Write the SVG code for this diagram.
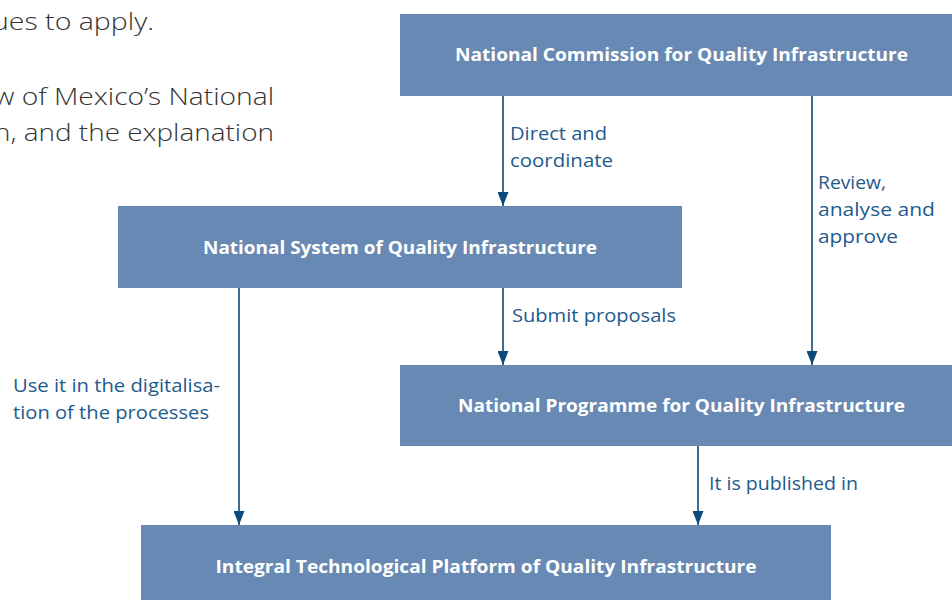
<svg xmlns="http://www.w3.org/2000/svg" width="952" height="600" viewBox="0 0 952 600">
<style>
.box{fill:#6889b3}
.bt{fill:#fff;font-family:"Open Sans","Liberation Sans",sans-serif;font-weight:700;font-size:18px;text-anchor:middle}
.lb{fill:#1f5a8d;font-family:"Open Sans","Liberation Sans",sans-serif;font-size:18.5px}
.pt{fill:#333;font-family:"Open Sans","Liberation Sans",sans-serif;font-size:24px;font-weight:300;text-anchor:end}
.ln{stroke:#0d4a7c;stroke-width:1.6;fill:none;marker-end:url(#ah)}
</style>
<defs>
<marker id="ah" viewBox="0 0 14 11" refX="14" refY="5.5" markerWidth="14" markerHeight="11" markerUnits="userSpaceOnUse" orient="auto">
<path d="M0,0 L14,5.5 L0,11 z" fill="#0d4a7c"/>
</marker>
</defs>
<rect width="952" height="600" fill="#fff"/>
<g id="para">
<text class="pt" x="154" y="30" textLength="162" lengthAdjust="spacingAndGlyphs">ues to apply.</text>
<text class="pt" x="274" y="105" textLength="280" lengthAdjust="spacingAndGlyphs">w of Mexico’s National</text>
<text class="pt" x="274" y="141" textLength="280" lengthAdjust="spacingAndGlyphs">n, and the explanation</text>
</g>
<g id="connectors">
<line class="ln" x1="503" y1="96" x2="503" y2="206"/>
<line class="ln" x1="812" y1="96" x2="812" y2="365"/>
<line class="ln" x1="503" y1="288" x2="503" y2="365"/>
<line class="ln" x1="239" y1="288" x2="239" y2="525"/>
<line class="ln" x1="698" y1="446" x2="698" y2="525"/>
<text class="lb" x="510" y="140" textLength="97" lengthAdjust="spacingAndGlyphs">Direct and</text>
<text class="lb" x="510" y="167" textLength="103" lengthAdjust="spacingAndGlyphs">coordinate</text>
<text class="lb" x="818" y="189" textLength="68" lengthAdjust="spacingAndGlyphs">Review,</text>
<text class="lb" x="818" y="216" textLength="117" lengthAdjust="spacingAndGlyphs">analyse and</text>
<text class="lb" x="818" y="243" textLength="80" lengthAdjust="spacingAndGlyphs">approve</text>
<text class="lb" x="512" y="322" textLength="164" lengthAdjust="spacingAndGlyphs">Submit proposals</text>
<text class="lb" x="13" y="392" textLength="207" lengthAdjust="spacingAndGlyphs">Use it in the digitalisa-</text>
<text class="lb" x="13" y="419" textLength="196" lengthAdjust="spacingAndGlyphs">tion of the processes</text>
<text class="lb" x="709" y="490" textLength="149" lengthAdjust="spacingAndGlyphs">It is published in</text>
</g>
<g id="n1">
<rect class="box" x="400" y="14" width="563" height="82"/>
<text class="bt" x="681.5" y="61" textLength="453" lengthAdjust="spacingAndGlyphs">National Commission for Quality Infrastructure</text>
</g>
<g id="n2">
<rect class="box" x="118" y="206" width="564" height="82"/>
<text class="bt" x="400" y="254" textLength="394" lengthAdjust="spacingAndGlyphs">National System of Quality Infrastructure</text>
</g>
<g id="n3">
<rect class="box" x="400" y="365" width="563" height="81"/>
<text class="bt" x="681.5" y="412" textLength="447" lengthAdjust="spacingAndGlyphs">National Programme for Quality Infrastructure</text>
</g>
<g id="n4">
<rect class="box" x="141" y="525" width="690" height="75"/>
<text class="bt" x="486" y="573" textLength="541" lengthAdjust="spacingAndGlyphs">Integral Technological Platform of Quality Infrastructure</text>
</g>
</svg>
